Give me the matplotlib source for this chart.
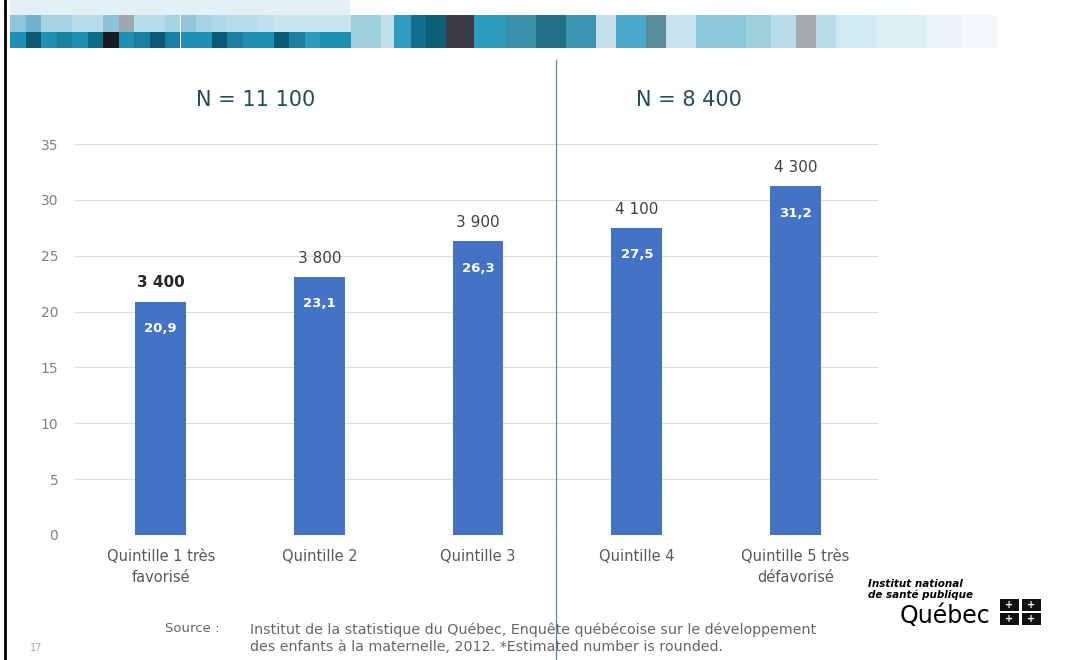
import matplotlib
matplotlib.use('Agg')
import matplotlib.pyplot as plt
from matplotlib.patches import Rectangle

# Data
categories = ['Quintille 1 très\nfavorisé', 'Quintille 2', 'Quintille 3',
              'Quintille 4', 'Quintille 5 très\ndéfavorisé']
percent = [20.9, 23.1, 26.3, 27.5, 31.2]
percent_labels = ['20,9', '23,1', '26,3', '27,5', '31,2']
counts = ['3 400', '3 800', '3 900', '4 100', '4 300']
groups = ['N = 11 100', 'N = 8 400']
yticks = [0, 5, 10, 15, 20, 25, 30, 35]

# decorative mosaic band (header of the slide)
band_left_top = ['#8fc6dc', '#6fb3cf', '#a6d2e4', '#a6d2e4', '#b8dcea', '#b8dcea',
                 '#8cc3d8', '#a0a8b0', '#b8dcea', '#b8dcea', '#a6d2e4', '#8fc6dc',
                 '#a6d2e4', '#b0d8e8', '#b8dcea', '#b8dcea', '#c0e0ec', '#c8e4ee',
                 '#c8e4ee', '#c8e4ee', '#c8e4ee', '#c8e4ee']
band_left_bottom = ['#1e90b4', '#0a5a74', '#1e90b4', '#1a7fa0', '#1e90b4', '#0f6a86',
                    '#1a1a24', '#1e90b4', '#1a7fa0', '#0a5a74', '#1a7fa0', '#1e90b4',
                    '#1e90b4', '#0a5a74', '#1a7fa0', '#1e90b4', '#1e90b4', '#0a5a74',
                    '#1a7fa0', '#2b9cbc', '#1e90b4', '#1e90b4']
band_right = [('#9fd0e0', 30), ('#bfe0ea', 13), ('#2e9cbc', 17), ('#0f6f8c', 15),
              ('#0e5f78', 20), ('#3a3a44', 28), ('#2b9cbc', 32), ('#3a8ea8', 30),
              ('#256f88', 30), ('#3a96b0', 30), ('#c5e2ec', 20), ('#4aaacc', 30),
              ('#5c8c9c', 20), ('#c8e4ee', 30), ('#8cc8dc', 50), ('#9fd0e0', 25),
              ('#b8dcea', 25), ('#a8a8ac', 20), ('#b8dcea', 20), ('#d0eaf2', 40),
              ('#dceff5', 50), ('#e8f4f8', 35), ('#f3f9fb', 35)]

W, H = 1072, 660
fig = plt.figure(figsize=(W / 100, H / 100), dpi=100, facecolor='white')

# Mosaic band, pixel coordinates converted to figure fractions
def px_rect(x, y, w, h, color):
    fig.patches.append(Rectangle((x / W, 1 - (y + h) / H), w / W, h / H,
                                 transform=fig.transFigure, color=color, lw=0))

px_rect(10, 0, 340, 15, '#e2eff5')
x = 10
for ct, cb in zip(band_left_top, band_left_bottom):
    px_rect(x, 15, 15.5, 17, ct)
    px_rect(x, 32, 15.5, 16, cb)
    x += 15.5
for c, w in band_right:
    px_rect(x, 15, w + 0.5, 33, c)
    x += w

# left border of the slide
fig.add_artist(plt.Line2D([5 / W, 5 / W], [0, 1], transform=fig.transFigure,
                          color='black', lw=2))

# Chart
ax = fig.add_axes([75 / W, 1 - 535 / H, (878 - 75) / W, (535 - 144) / H])
xs = list(range(len(categories)))
bars = ax.bar(xs, percent, width=0.32, color='#4472c4', zorder=2)
ax.set_xlim(-0.54, 4.52)
ax.set_ylim(0, 35)
ax.set_yticks(yticks)
ax.yaxis.grid(True, color='#dcdcdc', lw=0.9, zorder=0)
for s in ax.spines.values():
    s.set_visible(False)
ax.tick_params(length=0, labelsize=10)
ax.tick_params(axis='y', pad=12, colors='#7f7f7f')
ax.tick_params(axis='x', pad=10, colors='#595959')
ax.set_xticks(xs)
ax.set_xticklabels(categories, fontsize=10.5, linespacing=1.5)

for i, b in enumerate(bars):
    top = b.get_height()
    ax.annotate(percent_labels[i], (b.get_x() + b.get_width() / 2, top),
                xytext=(0, -24), textcoords='offset points', ha='center',
                va='bottom', color='white', fontsize=9.5, fontweight='bold')
    ax.annotate(counts[i], (b.get_x() + b.get_width() / 2, top),
                xytext=(0, 8), textcoords='offset points', ha='center',
                va='bottom', color='#262626' if i == 0 else '#404040',
                fontsize=11, fontweight='bold' if i == 0 else 'normal')

# group separator and headers
ax.axvline(2.49, ymin=-0.32, ymax=1.215, color='#5b86b8', lw=0.9, clip_on=False)
ax.text(0.6, 38.9, groups[0], ha='center', va='center', fontsize=15,
        color='#1f4e5f')
ax.text(3.33, 38.9, groups[1], ha='center', va='center', fontsize=15,
        color='#1f4e5f')

# footer
fig.text(165 / W, 1 - 628 / H, 'Source :', fontsize=9.5, color='#666666',
         va='center')
fig.text(250 / W, 1 - 638 / H,
         'Institut de la statistique du Québec, Enquête québécoise sur le développement\n'
         'des enfants à la maternelle, 2012. *Estimated number is rounded.',
         fontsize=10.3, color='#666666', va='center', linespacing=1.3)
fig.text(30 / W, 1 - 648 / H, '17', fontsize=7, color='#aaaaaa', va='center')

# logo
fig.text(868 / W, 1 - 584 / H, 'Institut national', fontsize=7.5,
         fontweight='bold', style='italic', va='center')
fig.text(868 / W, 1 - 595 / H, 'de santé publique', fontsize=7.5,
         fontweight='bold', style='italic', va='center')
fig.text(900 / W, 1 - 616 / H, 'Québec', fontsize=17, va='center')
for dx in (0, 22):
    for dy in (0, 14):
        px_rect(1000 + dx, 599 + dy, 19, 12, '#111111')
        fig.text((1009.5 + dx) / W, 1 - (605 + dy) / H, '+', fontsize=7,
                 color='white', ha='center', va='center', fontweight='bold')

fig.savefig('out.png', dpi=100, facecolor='white')
